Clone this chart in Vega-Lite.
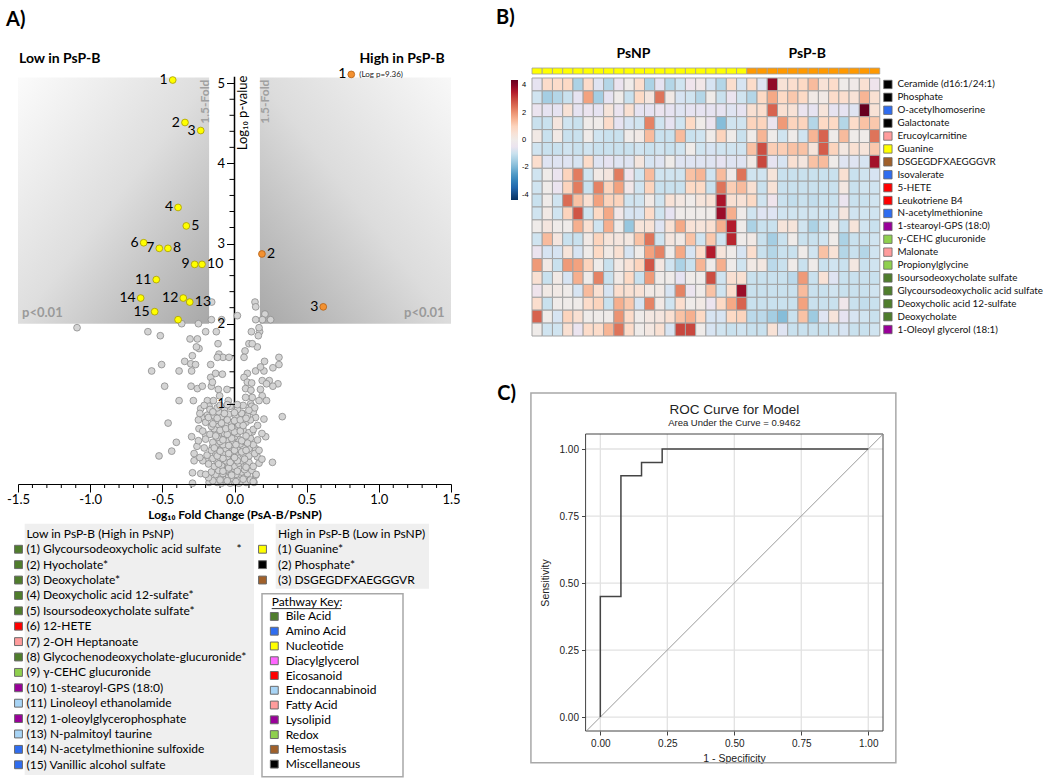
{
"$schema":"https://vega.github.io/schema/vega-lite/v6.json",
"background":"white",
"padding":{"left":6,"top":8,"right":0,"bottom":0},
"config":{"view":{"stroke":null},"font":"Lato","title":{"anchor":"start","color":"black"}},
"datasets":{
"volcano":[
{"x":-0.428,"y":5.04,"t":"low","n":1},{"x":-0.343,"y":4.51,"t":"low","n":2},{"x":-0.234,"y":4.41,"t":"low","n":3},{"x":-0.391,"y":3.45,"t":"low","n":4},{"x":-0.334,"y":3.22,"t":"low","n":5},{"x":-0.629,"y":3.01,"t":"low","n":6},{"x":-0.521,"y":2.94,"t":"low","n":7},{"x":-0.461,"y":2.94,"t":"low","n":8},{"x":-0.276,"y":2.74,"t":"low","n":9},{"x":-0.225,"y":2.74,"t":"low","n":10},{"x":-0.542,"y":2.55,"t":"low","n":11},{"x":-0.355,"y":2.32,"t":"low","n":12},{"x":-0.31,"y":2.27,"t":"low","n":13},{"x":-0.65,"y":2.32,"t":"low","n":14},{"x":-0.553,"y":2.15,"t":"low","n":15},{"x":-0.391,"y":2.05,"t":"low","n":null},
{"x":0.809,"y":5.11,"t":"high","n":1,"logp":9.36},{"x":0.19,"y":2.87,"t":"high","n":2},{"x":0.615,"y":2.21,"t":"high","n":3},
{"x":-0.158,"y":2.27,"t":"ns"},{"x":0.142,"y":2.27,"t":"ns"},{"x":0.147,"y":2.21,"t":"ns"},{"x":0.211,"y":2.12,"t":"ns"},{"x":0.193,"y":2.05,"t":"ns"},{"x":0.25,"y":2.05,"t":"ns"},{"x":0.147,"y":2.05,"t":"ns"},{"x":-0.16,"y":2.05,"t":"ns"},{"x":-0.089,"y":2.05,"t":"ns"},{"x":0.02,"y":2.1,"t":"ns"},{"x":-0.25,"y":2.0,"t":"ns"},{"x":-0.366,"y":2.0,"t":"ns"},{"x":-1.091,"y":1.95,"t":"ns"},{"x":-0.6,"y":1.9,"t":"ns"},{"x":-0.514,"y":1.85,"t":"ns"},{"x":-0.2,"y":1.9,"t":"ns"},{"x":-0.126,"y":1.9,"t":"ns"},{"x":0.117,"y":1.9,"t":"ns"},{"x":0.174,"y":1.9,"t":"ns"},{"x":0.165,"y":1.85,"t":"ns"},{"x":-0.308,"y":1.81,"t":"ns"},{"x":-0.257,"y":1.81,"t":"ns"},{"x":-0.114,"y":1.75,"t":"ns"},{"x":0.17,"y":1.95,"t":"ns"},{"x":0.073,"y":1.66,"t":"ns"},{"x":0.066,"y":1.58,"t":"ns"},{"x":0.158,"y":1.71,"t":"ns"},{"x":0.1,"y":1.75,"t":"ns"},{"x":0.123,"y":1.75,"t":"ns"},{"x":-0.108,"y":1.62,"t":"ns"},{"x":-0.08,"y":1.58,"t":"ns"},{"x":-0.038,"y":1.58,"t":"ns"},{"x":-0.119,"y":1.58,"t":"ns"},{"x":-0.246,"y":1.69,"t":"ns"},{"x":-0.292,"y":1.6,"t":"ns"},{"x":-0.264,"y":1.71,"t":"ns"},{"x":-0.345,"y":1.53,"t":"ns"},{"x":-0.303,"y":1.5,"t":"ns"},{"x":-0.27,"y":1.49,"t":"ns"},{"x":-0.297,"y":1.41,"t":"ns"},{"x":-0.384,"y":1.41,"t":"ns"},{"x":-0.165,"y":1.49,"t":"ns"},{"x":-0.505,"y":1.49,"t":"ns"},{"x":-0.574,"y":1.41,"t":"ns"},{"x":-0.484,"y":1.22,"t":"ns"},{"x":-0.384,"y":1.04,"t":"ns"},{"x":-0.285,"y":1.04,"t":"ns"},{"x":-0.301,"y":1.22,"t":"ns"},{"x":-0.257,"y":1.19,"t":"ns"},{"x":-0.223,"y":1.22,"t":"ns"},{"x":-0.16,"y":1.22,"t":"ns"},{"x":-0.165,"y":1.33,"t":"ns"},{"x":-0.131,"y":1.38,"t":"ns"},{"x":-0.084,"y":1.37,"t":"ns"},{"x":-0.153,"y":1.27,"t":"ns"},{"x":-0.112,"y":1.18,"t":"ns"},{"x":-0.188,"y":1.04,"t":"ns"},{"x":-0.146,"y":1.04,"t":"ns"},{"x":-0.103,"y":1.1,"t":"ns"},{"x":-0.052,"y":1.18,"t":"ns"},{"x":-0.043,"y":1.04,"t":"ns"},{"x":0.089,"y":1.38,"t":"ns"},{"x":0.146,"y":1.41,"t":"ns"},{"x":0.204,"y":1.41,"t":"ns"},{"x":0.266,"y":1.45,"t":"ns"},{"x":0.308,"y":1.58,"t":"ns"},{"x":0.308,"y":1.49,"t":"ns"},{"x":0.208,"y":1.53,"t":"ns"},{"x":0.18,"y":1.46,"t":"ns"},{"x":0.066,"y":1.33,"t":"ns"},{"x":0.089,"y":1.27,"t":"ns"},{"x":0.119,"y":1.26,"t":"ns"},{"x":0.192,"y":1.29,"t":"ns"},{"x":0.241,"y":1.29,"t":"ns"},{"x":0.301,"y":1.25,"t":"ns"},{"x":0.222,"y":1.25,"t":"ns"},{"x":0.266,"y":1.22,"t":"ns"},{"x":0.077,"y":1.19,"t":"ns"},{"x":0.114,"y":1.17,"t":"ns"},{"x":0.18,"y":1.18,"t":"ns"},{"x":0.123,"y":1.08,"t":"ns"},{"x":0.077,"y":1.08,"t":"ns"},{"x":0.192,"y":1.1,"t":"ns"},{"x":0.17,"y":1.04,"t":"ns"},{"x":0.222,"y":1.04,"t":"ns"},{"x":0.112,"y":1.0,"t":"ns"},{"x":0.331,"y":0.84,"t":"ns"},{"x":0.204,"y":0.81,"t":"ns"},{"x":0.119,"y":0.97,"t":"ns"},{"x":0.054,"y":0.88,"t":"ns"},{"x":0.146,"y":0.83,"t":"ns"},{"x":0.089,"y":0.81,"t":"ns"},{"x":-0.46,"y":0.76,"t":"ns"},{"x":-0.234,"y":0.94,"t":"ns"},{"x":-0.176,"y":0.97,"t":"ns"},{"x":-0.223,"y":0.83,"t":"ns"},{"x":-0.25,"y":0.8,"t":"ns"},{"x":-0.188,"y":0.86,"t":"ns"},{"x":-0.297,"y":0.59,"t":"ns"},{"x":-0.246,"y":0.69,"t":"ns"},{"x":-0.2,"y":0.61,"t":"ns"},{"x":-0.153,"y":0.71,"t":"ns"},{"x":-0.403,"y":0.52,"t":"ns"},{"x":-0.435,"y":0.41,"t":"ns"},{"x":-0.523,"y":0.35,"t":"ns"},{"x":-0.28,"y":0.38,"t":"ns"},{"x":-0.28,"y":0.29,"t":"ns"},{"x":-0.291,"y":0.14,"t":"ns"},{"x":-0.234,"y":0.13,"t":"ns"},{"x":-0.176,"y":0.02,"t":"ns"},{"x":-0.291,"y":0.01,"t":"ns"},{"x":-0.2,"y":0.3,"t":"ns"},{"x":-0.153,"y":0.46,"t":"ns"},{"x":0.216,"y":0.59,"t":"ns"},{"x":0.263,"y":0.27,"t":"ns"},{"x":0.146,"y":0.44,"t":"ns"},{"x":0.158,"y":0.34,"t":"ns"},{"x":0.123,"y":0.65,"t":"ns"},{"x":0.135,"y":0.02,"t":"ns"},{"x":0.146,"y":0.11,"t":"ns"},
{"x":-0.12,"y":0.02,"t":"ns"},{"x":-0.09,"y":0.01,"t":"ns"},{"x":-0.06,"y":0.03,"t":"ns"},{"x":-0.03,"y":0.01,"t":"ns"},{"x":0.0,"y":0.02,"t":"ns"},{"x":0.03,"y":0.01,"t":"ns"},{"x":0.05,"y":0.03,"t":"ns"},{"x":0.08,"y":0.02,"t":"ns"},{"x":-0.15,"y":0.04,"t":"ns"},{"x":0.11,"y":0.05,"t":"ns"},{"x":-0.07,"y":0.06,"t":"ns"},{"x":-0.01,"y":0.07,"t":"ns"},{"x":0.04,"y":0.08,"t":"ns"},{"x":-0.1,"y":0.09,"t":"ns"},{"x":0.07,"y":0.1,"t":"ns"},{"x":-0.04,"y":0.1,"t":"ns"},{"x":0.02,"y":0.05,"t":"ns"},{"x":-0.18,"y":0.08,"t":"ns"},{"x":0.13,"y":0.03,"t":"ns"},
{"x":-0.13,"y":0.12,"t":"ns"},{"x":-0.08,"y":0.13,"t":"ns"},{"x":-0.03,"y":0.14,"t":"ns"},{"x":0.01,"y":0.12,"t":"ns"},{"x":0.05,"y":0.15,"t":"ns"},{"x":0.09,"y":0.13,"t":"ns"},{"x":-0.11,"y":0.17,"t":"ns"},{"x":-0.05,"y":0.18,"t":"ns"},{"x":0.0,"y":0.19,"t":"ns"},{"x":0.04,"y":0.2,"t":"ns"},{"x":-0.16,"y":0.15,"t":"ns"},{"x":0.12,"y":0.17,"t":"ns"},{"x":-0.02,"y":0.11,"t":"ns"},{"x":0.07,"y":0.18,"t":"ns"},{"x":-0.2,"y":0.12,"t":"ns"},{"x":0.15,"y":0.12,"t":"ns"},
{"x":-0.14,"y":0.22,"t":"ns"},{"x":-0.09,"y":0.23,"t":"ns"},{"x":-0.04,"y":0.24,"t":"ns"},{"x":0.0,"y":0.22,"t":"ns"},{"x":0.03,"y":0.26,"t":"ns"},{"x":0.07,"y":0.23,"t":"ns"},{"x":0.1,"y":0.27,"t":"ns"},{"x":-0.12,"y":0.28,"t":"ns"},{"x":-0.06,"y":0.29,"t":"ns"},{"x":-0.01,"y":0.3,"t":"ns"},{"x":0.05,"y":0.29,"t":"ns"},{"x":-0.18,"y":0.25,"t":"ns"},{"x":0.13,"y":0.22,"t":"ns"},{"x":-0.22,"y":0.29,"t":"ns"},{"x":0.17,"y":0.26,"t":"ns"},
{"x":-0.15,"y":0.32,"t":"ns"},{"x":-0.1,"y":0.33,"t":"ns"},{"x":-0.05,"y":0.34,"t":"ns"},{"x":-0.01,"y":0.36,"t":"ns"},{"x":0.03,"y":0.33,"t":"ns"},{"x":0.06,"y":0.37,"t":"ns"},{"x":0.1,"y":0.35,"t":"ns"},{"x":-0.13,"y":0.38,"t":"ns"},{"x":-0.08,"y":0.39,"t":"ns"},{"x":0.02,"y":0.4,"t":"ns"},{"x":0.14,"y":0.38,"t":"ns"},{"x":-0.19,"y":0.36,"t":"ns"},{"x":-0.24,"y":0.33,"t":"ns"},{"x":0.19,"y":0.31,"t":"ns"},
{"x":-0.16,"y":0.42,"t":"ns"},{"x":-0.11,"y":0.43,"t":"ns"},{"x":-0.06,"y":0.44,"t":"ns"},{"x":-0.02,"y":0.46,"t":"ns"},{"x":0.02,"y":0.43,"t":"ns"},{"x":0.06,"y":0.47,"t":"ns"},{"x":0.1,"y":0.44,"t":"ns"},{"x":-0.13,"y":0.48,"t":"ns"},{"x":-0.08,"y":0.49,"t":"ns"},{"x":0.04,"y":0.5,"t":"ns"},{"x":0.13,"y":0.49,"t":"ns"},{"x":-0.21,"y":0.45,"t":"ns"},{"x":0.17,"y":0.42,"t":"ns"},{"x":-0.26,"y":0.47,"t":"ns"},
{"x":-0.15,"y":0.52,"t":"ns"},{"x":-0.1,"y":0.53,"t":"ns"},{"x":-0.05,"y":0.55,"t":"ns"},{"x":-0.01,"y":0.52,"t":"ns"},{"x":0.03,"y":0.56,"t":"ns"},{"x":0.07,"y":0.53,"t":"ns"},{"x":0.11,"y":0.57,"t":"ns"},{"x":-0.12,"y":0.58,"t":"ns"},{"x":-0.07,"y":0.6,"t":"ns"},{"x":0.0,"y":0.59,"t":"ns"},{"x":0.16,"y":0.55,"t":"ns"},{"x":-0.2,"y":0.56,"t":"ns"},{"x":-0.25,"y":0.54,"t":"ns"},
{"x":-0.17,"y":0.62,"t":"ns"},{"x":-0.12,"y":0.64,"t":"ns"},{"x":-0.07,"y":0.63,"t":"ns"},{"x":-0.03,"y":0.66,"t":"ns"},{"x":0.02,"y":0.63,"t":"ns"},{"x":0.06,"y":0.67,"t":"ns"},{"x":0.1,"y":0.64,"t":"ns"},{"x":-0.14,"y":0.69,"t":"ns"},{"x":-0.09,"y":0.7,"t":"ns"},{"x":0.04,"y":0.7,"t":"ns"},{"x":0.13,"y":0.68,"t":"ns"},{"x":-0.22,"y":0.66,"t":"ns"},{"x":0.19,"y":0.63,"t":"ns"},
{"x":-0.16,"y":0.72,"t":"ns"},{"x":-0.11,"y":0.74,"t":"ns"},{"x":-0.06,"y":0.73,"t":"ns"},{"x":-0.02,"y":0.76,"t":"ns"},{"x":0.03,"y":0.74,"t":"ns"},{"x":0.08,"y":0.77,"t":"ns"},{"x":-0.13,"y":0.79,"t":"ns"},{"x":-0.08,"y":0.8,"t":"ns"},{"x":0.11,"y":0.8,"t":"ns"},{"x":-0.2,"y":0.77,"t":"ns"},{"x":0.16,"y":0.73,"t":"ns"},
{"x":-0.18,"y":0.83,"t":"ns"},{"x":-0.14,"y":0.85,"t":"ns"},{"x":-0.09,"y":0.84,"t":"ns"},{"x":-0.04,"y":0.87,"t":"ns"},{"x":0.01,"y":0.84,"t":"ns"},{"x":0.05,"y":0.88,"t":"ns"},{"x":0.09,"y":0.85,"t":"ns"},{"x":-0.11,"y":0.9,"t":"ns"},{"x":0.13,"y":0.9,"t":"ns"},{"x":-0.24,"y":0.88,"t":"ns"},
{"x":-0.17,"y":0.93,"t":"ns"},{"x":-0.12,"y":0.95,"t":"ns"},{"x":-0.07,"y":0.94,"t":"ns"},{"x":-0.03,"y":0.97,"t":"ns"},{"x":0.02,"y":0.93,"t":"ns"},{"x":0.06,"y":0.98,"t":"ns"},{"x":-0.21,"y":0.98,"t":"ns"},{"x":0.14,"y":0.95,"t":"ns"},
{"x":-0.1,"y":0.05,"t":"ns"},{"x":-0.05,"y":0.04,"t":"ns"},{"x":0.01,"y":0.03,"t":"ns"},{"x":0.06,"y":0.06,"t":"ns"},{"x":-0.08,"y":0.16,"t":"ns"},{"x":0.02,"y":0.16,"t":"ns"},{"x":-0.04,"y":0.2,"t":"ns"},{"x":0.08,"y":0.21,"t":"ns"},{"x":-0.11,"y":0.25,"t":"ns"},{"x":-0.03,"y":0.27,"t":"ns"},{"x":0.02,"y":0.29,"t":"ns"},{"x":-0.08,"y":0.32,"t":"ns"},{"x":0.0,"y":0.33,"t":"ns"},{"x":0.07,"y":0.31,"t":"ns"},{"x":-0.12,"y":0.35,"t":"ns"},{"x":-0.04,"y":0.38,"t":"ns"},{"x":0.05,"y":0.4,"t":"ns"},{"x":-0.1,"y":0.41,"t":"ns"},{"x":0.0,"y":0.42,"t":"ns"},{"x":0.08,"y":0.42,"t":"ns"},{"x":-0.14,"y":0.45,"t":"ns"},{"x":-0.04,"y":0.48,"t":"ns"},{"x":0.01,"y":0.49,"t":"ns"},{"x":0.09,"y":0.51,"t":"ns"},{"x":-0.08,"y":0.55,"t":"ns"},{"x":0.05,"y":0.54,"t":"ns"},{"x":-0.02,"y":0.57,"t":"ns"},{"x":-0.13,"y":0.6,"t":"ns"},{"x":0.08,"y":0.6,"t":"ns"},{"x":-0.05,"y":0.62,"t":"ns"},{"x":0.0,"y":0.65,"t":"ns"},{"x":-0.1,"y":0.67,"t":"ns"},{"x":0.04,"y":0.66,"t":"ns"},{"x":-0.06,"y":0.69,"t":"ns"},{"x":-0.15,"y":0.75,"t":"ns"},{"x":-0.02,"y":0.71,"t":"ns"},{"x":0.06,"y":0.73,"t":"ns"},{"x":-0.09,"y":0.76,"t":"ns"},{"x":0.0,"y":0.79,"t":"ns"},{"x":-0.05,"y":0.8,"t":"ns"},{"x":0.04,"y":0.8,"t":"ns"},{"x":-0.12,"y":0.82,"t":"ns"},{"x":0.08,"y":0.82,"t":"ns"},{"x":-0.07,"y":0.88,"t":"ns"},{"x":0.0,"y":0.89,"t":"ns"},{"x":-0.15,"y":0.9,"t":"ns"},{"x":0.1,"y":0.92,"t":"ns"},{"x":-0.1,"y":0.98,"t":"ns"},{"x":0.02,"y":0.99,"t":"ns"},{"x":-0.05,"y":0.99,"t":"ns"}
],
"xminor":[{"v":-1.4},{"v":-1.3},{"v":-1.2},{"v":-1.1},{"v":-0.9},{"v":-0.8},{"v":-0.7},{"v":-0.6},{"v":-0.4},{"v":-0.3},{"v":-0.2},{"v":-0.1},{"v":0.1},{"v":0.2},{"v":0.3},{"v":0.4},{"v":0.6},{"v":0.7},{"v":0.8},{"v":0.9},{"v":1.1},{"v":1.2},{"v":1.3},{"v":1.4}],
"yminor":[{"v":0.2},{"v":0.4},{"v":0.6},{"v":0.8},{"v":1.2},{"v":1.4},{"v":1.6},{"v":1.8},{"v":2.2},{"v":2.4},{"v":2.6},{"v":2.8},{"v":3.2},{"v":3.4},{"v":3.6},{"v":3.8},{"v":4.2},{"v":4.4},{"v":4.6},{"v":4.8}],
"rocgrid":[{"g":0},{"g":0.25},{"g":0.5},{"g":0.75},{"g":1}],
"legendList":[
{"list":"low","row":0,"label":"Low in PsP-B (High in PsNP)","pathway":null},
{"list":"low","row":1,"label":"(1) Glycoursodeoxycholic acid sulfate\u00a0\u00a0\u00a0\u00a0\u00a0*","pathway":"Bile Acid"},
{"list":"low","row":2,"label":"(2) Hyocholate*","pathway":"Bile Acid"},
{"list":"low","row":3,"label":"(3) Deoxycholate*","pathway":"Bile Acid"},
{"list":"low","row":4,"label":"(4) Deoxycholic acid 12-sulfate*","pathway":"Bile Acid"},
{"list":"low","row":5,"label":"(5) Isoursodeoxycholate sulfate*","pathway":"Bile Acid"},
{"list":"low","row":6,"label":"(6) 12-HETE","pathway":"Eicosanoid"},
{"list":"low","row":7,"label":"(7) 2-OH Heptanoate","pathway":"Fatty Acid"},
{"list":"low","row":8,"label":"(8) Glycochenodeoxycholate-glucuronide*","pathway":"Bile Acid"},
{"list":"low","row":9,"label":"(9) γ-CEHC glucuronide","pathway":"Redox"},
{"list":"low","row":10,"label":"(10) 1-stearoyl-GPS (18:0)","pathway":"Lysolipid"},
{"list":"low","row":11,"label":"(11) Linoleoyl ethanolamide","pathway":"Endocannabinoid"},
{"list":"low","row":12,"label":"(12) 1-oleoylglycerophosphate","pathway":"Lysolipid"},
{"list":"low","row":13,"label":"(13) N-palmitoyl taurine","pathway":"Endocannabinoid"},
{"list":"low","row":14,"label":"(14) N-acetylmethionine sulfoxide","pathway":"Amino Acid"},
{"list":"low","row":15,"label":"(15) Vanillic alcohol sulfate","pathway":"Amino Acid"},
{"list":"high","row":0,"label":"High in PsP-B (Low in PsNP)","pathway":null},
{"list":"high","row":1,"label":"(1) Guanine*","pathway":"Nucleotide"},
{"list":"high","row":2,"label":"(2) Phosphate*","pathway":"Miscellaneous"},
{"list":"high","row":3,"label":"(3) DSGEGDFXAEGGGVR","pathway":"Hemostasis"}
],
"pathKey":[
{"row":1,"pathway":"Bile Acid"},{"row":2,"pathway":"Amino Acid"},{"row":3,"pathway":"Nucleotide"},{"row":4,"pathway":"Diacylglycerol"},{"row":5,"pathway":"Eicosanoid"},{"row":6,"pathway":"Endocannabinoid"},{"row":7,"pathway":"Fatty Acid"},{"row":8,"pathway":"Lysolipid"},{"row":9,"pathway":"Redox"},{"row":10,"pathway":"Hemostasis"},{"row":11,"pathway":"Miscellaneous"}
],
"metab":[
{"r":0,"name":"Ceramide (d16:1/24:1)","pathway":"Miscellaneous"},
{"r":1,"name":"Phosphate","pathway":"Miscellaneous"},
{"r":2,"name":"O-acetylhomoserine","pathway":"Amino Acid"},
{"r":3,"name":"Galactonate","pathway":"Miscellaneous"},
{"r":4,"name":"Erucoylcarnitine","pathway":"Fatty Acid"},
{"r":5,"name":"Guanine","pathway":"Nucleotide"},
{"r":6,"name":"DSGEGDFXAEGGGVR","pathway":"Hemostasis"},
{"r":7,"name":"Isovalerate","pathway":"Amino Acid"},
{"r":8,"name":"5-HETE","pathway":"Eicosanoid"},
{"r":9,"name":"Leukotriene B4","pathway":"Eicosanoid"},
{"r":10,"name":"N-acetylmethionine","pathway":"Amino Acid"},
{"r":11,"name":"1-stearoyl-GPS (18:0)","pathway":"Lysolipid"},
{"r":12,"name":"γ-CEHC glucuronide","pathway":"Redox"},
{"r":13,"name":"Malonate","pathway":"Fatty Acid"},
{"r":14,"name":"Propionylglycine","pathway":"Redox"},
{"r":15,"name":"Isoursodeoxycholate sulfate","pathway":"Bile Acid"},
{"r":16,"name":"Glycoursodeoxycholic acid sulfate","pathway":"Bile Acid"},
{"r":17,"name":"Deoxycholic acid 12-sulfate","pathway":"Bile Acid"},
{"r":18,"name":"Deoxycholate","pathway":"Bile Acid"},
{"r":19,"name":"1-Oleoyl glycerol (18:1)","pathway":"Lysolipid"}
],
"samples":[
{"c":0,"group":"PsNP"},{"c":1,"group":"PsNP"},{"c":2,"group":"PsNP"},{"c":3,"group":"PsNP"},{"c":4,"group":"PsNP"},{"c":5,"group":"PsNP"},{"c":6,"group":"PsNP"},{"c":7,"group":"PsNP"},{"c":8,"group":"PsNP"},{"c":9,"group":"PsNP"},{"c":10,"group":"PsNP"},{"c":11,"group":"PsNP"},{"c":12,"group":"PsNP"},{"c":13,"group":"PsNP"},{"c":14,"group":"PsNP"},{"c":15,"group":"PsNP"},{"c":16,"group":"PsNP"},{"c":17,"group":"PsNP"},{"c":18,"group":"PsNP"},{"c":19,"group":"PsNP"},{"c":20,"group":"PsNP"},
{"c":21,"group":"PsP-B"},{"c":22,"group":"PsP-B"},{"c":23,"group":"PsP-B"},{"c":24,"group":"PsP-B"},{"c":25,"group":"PsP-B"},{"c":26,"group":"PsP-B"},{"c":27,"group":"PsP-B"},{"c":28,"group":"PsP-B"},{"c":29,"group":"PsP-B"},{"c":30,"group":"PsP-B"},{"c":31,"group":"PsP-B"},{"c":32,"group":"PsP-B"},{"c":33,"group":"PsP-B"}
],
"heat":[
{"r":0,"c":0,"v":-0.6},{"r":0,"c":1,"v":0.8},{"r":0,"c":2,"v":0.8},{"r":0,"c":3,"v":0.9},{"r":0,"c":4,"v":-1.4},{"r":0,"c":5,"v":0.8},{"r":0,"c":6,"v":-0.7},{"r":0,"c":7,"v":-1.3},{"r":0,"c":8,"v":-0.5},{"r":0,"c":9,"v":0},{"r":0,"c":10,"v":0.7},{"r":0,"c":11,"v":-1.4},{"r":0,"c":12,"v":-0.6},{"r":0,"c":13,"v":-1.3},{"r":0,"c":14,"v":-0.9},{"r":0,"c":15,"v":-0.4},{"r":0,"c":16,"v":-0.2},{"r":0,"c":17,"v":-0.8},{"r":0,"c":18,"v":-1.3},{"r":0,"c":19,"v":0.7},{"r":0,"c":20,"v":-0.8},{"r":0,"c":21,"v":0.8},{"r":0,"c":22,"v":-0.7},{"r":0,"c":23,"v":3.9},{"r":0,"c":24,"v":0.5},{"r":0,"c":25,"v":0.7},{"r":0,"c":26,"v":0.9},{"r":0,"c":27,"v":1.4},{"r":0,"c":28,"v":0.5},{"r":0,"c":29,"v":0.8},{"r":0,"c":30,"v":0},{"r":0,"c":31,"v":-0.1},{"r":0,"c":32,"v":0.6},{"r":0,"c":33,"v":-0.4},
{"r":1,"c":0,"v":-0.9},{"r":1,"c":1,"v":-1.5},{"r":1,"c":2,"v":-1.3},{"r":1,"c":3,"v":-1.0},{"r":1,"c":4,"v":-0.6},{"r":1,"c":5,"v":1.8},{"r":1,"c":6,"v":-1.5},{"r":1,"c":7,"v":-0.6},{"r":1,"c":8,"v":0},{"r":1,"c":9,"v":-1.0},{"r":1,"c":10,"v":0.9},{"r":1,"c":11,"v":0.3},{"r":1,"c":12,"v":2.4},{"r":1,"c":13,"v":0.1},{"r":1,"c":14,"v":-0.8},{"r":1,"c":15,"v":-0.9},{"r":1,"c":16,"v":-1.3},{"r":1,"c":17,"v":0},{"r":1,"c":18,"v":-1.0},{"r":1,"c":19,"v":-0.5},{"r":1,"c":20,"v":-0.9},{"r":1,"c":21,"v":-1.3},{"r":1,"c":22,"v":0.9},{"r":1,"c":23,"v":1.7},{"r":1,"c":24,"v":0.9},{"r":1,"c":25,"v":1.2},{"r":1,"c":26,"v":0.9},{"r":1,"c":27,"v":0.1},{"r":1,"c":28,"v":0.1},{"r":1,"c":29,"v":0.8},{"r":1,"c":30,"v":0.7},{"r":1,"c":31,"v":0.5},{"r":1,"c":32,"v":1.5},{"r":1,"c":33,"v":0.6},
{"r":2,"c":0,"v":-0.5},{"r":2,"c":1,"v":-0.6},{"r":2,"c":2,"v":-0.6},{"r":2,"c":3,"v":0.5},{"r":2,"c":4,"v":-0.6},{"r":2,"c":5,"v":-0.5},{"r":2,"c":6,"v":-0.6},{"r":2,"c":7,"v":0.4},{"r":2,"c":8,"v":-0.5},{"r":2,"c":9,"v":0.6},{"r":2,"c":10,"v":-0.6},{"r":2,"c":11,"v":-0.6},{"r":2,"c":12,"v":-0.5},{"r":2,"c":13,"v":-0.6},{"r":2,"c":14,"v":-0.7},{"r":2,"c":15,"v":-0.6},{"r":2,"c":16,"v":-0.6},{"r":2,"c":17,"v":-0.6},{"r":2,"c":18,"v":-0.6},{"r":2,"c":19,"v":-0.7},{"r":2,"c":20,"v":-0.6},{"r":2,"c":21,"v":0.6},{"r":2,"c":22,"v":0.7},{"r":2,"c":23,"v":2.6},{"r":2,"c":24,"v":0.6},{"r":2,"c":25,"v":0.5},{"r":2,"c":26,"v":-0.5},{"r":2,"c":27,"v":-0.6},{"r":2,"c":28,"v":0.4},{"r":2,"c":29,"v":-0.6},{"r":2,"c":30,"v":-0.6},{"r":2,"c":31,"v":-0.7},{"r":2,"c":32,"v":4.4},{"r":2,"c":33,"v":0.5},
{"r":3,"c":0,"v":-1.0},{"r":3,"c":1,"v":-1.0},{"r":3,"c":2,"v":0.3},{"r":3,"c":3,"v":-0.9},{"r":3,"c":4,"v":-1.0},{"r":3,"c":5,"v":0},{"r":3,"c":6,"v":0},{"r":3,"c":7,"v":0.8},{"r":3,"c":8,"v":-0.6},{"r":3,"c":9,"v":-0.8},{"r":3,"c":10,"v":-0.9},{"r":3,"c":11,"v":2.2},{"r":3,"c":12,"v":-0.9},{"r":3,"c":13,"v":-0.6},{"r":3,"c":14,"v":-0.9},{"r":3,"c":15,"v":0.9},{"r":3,"c":16,"v":0},{"r":3,"c":17,"v":-0.5},{"r":3,"c":18,"v":-1.9},{"r":3,"c":19,"v":-0.9},{"r":3,"c":20,"v":-0.9},{"r":3,"c":21,"v":1.0},{"r":3,"c":22,"v":1.0},{"r":3,"c":23,"v":-0.5},{"r":3,"c":24,"v":1.9},{"r":3,"c":25,"v":1.0},{"r":3,"c":26,"v":1.0},{"r":3,"c":27,"v":-1.3},{"r":3,"c":28,"v":0.9},{"r":3,"c":29,"v":0.9},{"r":3,"c":30,"v":-1.3},{"r":3,"c":31,"v":0.8},{"r":3,"c":32,"v":1.3},{"r":3,"c":33,"v":1.2},
{"r":4,"c":0,"v":0.1},{"r":4,"c":1,"v":-1.0},{"r":4,"c":2,"v":0.1},{"r":4,"c":3,"v":-1.0},{"r":4,"c":4,"v":-1.0},{"r":4,"c":5,"v":0},{"r":4,"c":6,"v":-0.9},{"r":4,"c":7,"v":-1.0},{"r":4,"c":8,"v":-1.0},{"r":4,"c":9,"v":0},{"r":4,"c":10,"v":0.1},{"r":4,"c":11,"v":1.4},{"r":4,"c":12,"v":-1.0},{"r":4,"c":13,"v":-1.0},{"r":4,"c":14,"v":1.4},{"r":4,"c":15,"v":-1.0},{"r":4,"c":16,"v":-0.9},{"r":4,"c":17,"v":0},{"r":4,"c":18,"v":1.0},{"r":4,"c":19,"v":0},{"r":4,"c":20,"v":-1.0},{"r":4,"c":21,"v":0},{"r":4,"c":22,"v":1.5},{"r":4,"c":23,"v":0},{"r":4,"c":24,"v":-0.9},{"r":4,"c":25,"v":0},{"r":4,"c":26,"v":-0.9},{"r":4,"c":27,"v":1.5},{"r":4,"c":28,"v":2.6},{"r":4,"c":29,"v":0},{"r":4,"c":30,"v":1.4},{"r":4,"c":31,"v":0},{"r":4,"c":32,"v":0},{"r":4,"c":33,"v":2.4},
{"r":5,"c":0,"v":-0.9},{"r":5,"c":1,"v":-1.0},{"r":5,"c":2,"v":-1.0},{"r":5,"c":3,"v":-0.9},{"r":5,"c":4,"v":-1.0},{"r":5,"c":5,"v":-0.9},{"r":5,"c":6,"v":-1.0},{"r":5,"c":7,"v":-1.0},{"r":5,"c":8,"v":-1.0},{"r":5,"c":9,"v":-1.0},{"r":5,"c":10,"v":-0.9},{"r":5,"c":11,"v":-1.0},{"r":5,"c":12,"v":-0.9},{"r":5,"c":13,"v":-1.0},{"r":5,"c":14,"v":-0.9},{"r":5,"c":15,"v":0},{"r":5,"c":16,"v":-0.9},{"r":5,"c":17,"v":-0.8},{"r":5,"c":18,"v":-0.9},{"r":5,"c":19,"v":-0.9},{"r":5,"c":20,"v":-0.9},{"r":5,"c":21,"v":1.3},{"r":5,"c":22,"v":2.9},{"r":5,"c":23,"v":1.1},{"r":5,"c":24,"v":1.1},{"r":5,"c":25,"v":1.3},{"r":5,"c":26,"v":1.3},{"r":5,"c":27,"v":0.4},{"r":5,"c":28,"v":2.7},{"r":5,"c":29,"v":1.0},{"r":5,"c":30,"v":0.2},{"r":5,"c":31,"v":0.6},{"r":5,"c":32,"v":0.4},{"r":5,"c":33,"v":1.2},
{"r":6,"c":0,"v":0.7},{"r":6,"c":1,"v":-0.7},{"r":6,"c":2,"v":-0.7},{"r":6,"c":3,"v":-0.7},{"r":6,"c":4,"v":-0.8},{"r":6,"c":5,"v":0.8},{"r":6,"c":6,"v":-0.7},{"r":6,"c":7,"v":-0.6},{"r":6,"c":8,"v":-0.7},{"r":6,"c":9,"v":-0.7},{"r":6,"c":10,"v":0.3},{"r":6,"c":11,"v":-0.8},{"r":6,"c":12,"v":-0.7},{"r":6,"c":13,"v":0},{"r":6,"c":14,"v":-0.7},{"r":6,"c":15,"v":-0.7},{"r":6,"c":16,"v":-0.7},{"r":6,"c":17,"v":-0.7},{"r":6,"c":18,"v":-0.6},{"r":6,"c":19,"v":-0.7},{"r":6,"c":20,"v":-0.7},{"r":6,"c":21,"v":0.1},{"r":6,"c":22,"v":3.0},{"r":6,"c":23,"v":-0.6},{"r":6,"c":24,"v":-0.8},{"r":6,"c":25,"v":0.6},{"r":6,"c":26,"v":0.3},{"r":6,"c":27,"v":1.3},{"r":6,"c":28,"v":1.4},{"r":6,"c":29,"v":0},{"r":6,"c":30,"v":-0.7},{"r":6,"c":31,"v":-0.7},{"r":6,"c":32,"v":-0.8},{"r":6,"c":33,"v":3.7},
{"r":7,"c":0,"v":-0.9},{"r":7,"c":1,"v":0},{"r":7,"c":2,"v":-0.5},{"r":7,"c":3,"v":1.0},{"r":7,"c":4,"v":2.3},{"r":7,"c":5,"v":-0.9},{"r":7,"c":6,"v":0.1},{"r":7,"c":7,"v":0.3},{"r":7,"c":8,"v":2.3},{"r":7,"c":9,"v":-0.4},{"r":7,"c":10,"v":-0.9},{"r":7,"c":11,"v":1.4},{"r":7,"c":12,"v":-0.9},{"r":7,"c":13,"v":-0.9},{"r":7,"c":14,"v":-0.9},{"r":7,"c":15,"v":1.3},{"r":7,"c":16,"v":1.5},{"r":7,"c":17,"v":-0.9},{"r":7,"c":18,"v":1.4},{"r":7,"c":19,"v":-0.1},{"r":7,"c":20,"v":2.4},{"r":7,"c":21,"v":-0.9},{"r":7,"c":22,"v":-0.9},{"r":7,"c":23,"v":0.4},{"r":7,"c":24,"v":-1.0},{"r":7,"c":25,"v":-1.0},{"r":7,"c":26,"v":-1.0},{"r":7,"c":27,"v":-1.0},{"r":7,"c":28,"v":-1.0},{"r":7,"c":29,"v":-1.0},{"r":7,"c":30,"v":0.6},{"r":7,"c":31,"v":-1.0},{"r":7,"c":32,"v":-0.9},{"r":7,"c":33,"v":-0.8},
{"r":8,"c":0,"v":-0.9},{"r":8,"c":1,"v":0},{"r":8,"c":2,"v":-0.5},{"r":8,"c":3,"v":1.0},{"r":8,"c":4,"v":2.3},{"r":8,"c":5,"v":-1.0},{"r":8,"c":6,"v":2.2},{"r":8,"c":7,"v":1.0},{"r":8,"c":8,"v":1.8},{"r":8,"c":9,"v":-0.2},{"r":8,"c":10,"v":-0.9},{"r":8,"c":11,"v":1.0},{"r":8,"c":12,"v":-1.0},{"r":8,"c":13,"v":-1.0},{"r":8,"c":14,"v":-1.0},{"r":8,"c":15,"v":0.9},{"r":8,"c":16,"v":0.9},{"r":8,"c":17,"v":-1.0},{"r":8,"c":18,"v":2.4},{"r":8,"c":19,"v":1.1},{"r":8,"c":20,"v":1.4},{"r":8,"c":21,"v":0.6},{"r":8,"c":22,"v":-1.0},{"r":8,"c":23,"v":0.5},{"r":8,"c":24,"v":-1.0},{"r":8,"c":25,"v":-1.0},{"r":8,"c":26,"v":-1.0},{"r":8,"c":27,"v":-1.0},{"r":8,"c":28,"v":-1.0},{"r":8,"c":29,"v":-1.0},{"r":8,"c":30,"v":0.2},{"r":8,"c":31,"v":-1.0},{"r":8,"c":32,"v":-0.9},{"r":8,"c":33,"v":-0.9},
{"r":9,"c":0,"v":-1.0},{"r":9,"c":1,"v":0},{"r":9,"c":2,"v":-0.9},{"r":9,"c":3,"v":2.5},{"r":9,"c":4,"v":1.3},{"r":9,"c":5,"v":0.6},{"r":9,"c":6,"v":1.8},{"r":9,"c":7,"v":1.0},{"r":9,"c":8,"v":1.0},{"r":9,"c":9,"v":-0.9},{"r":9,"c":10,"v":-0.9},{"r":9,"c":11,"v":0.1},{"r":9,"c":12,"v":-0.9},{"r":9,"c":13,"v":0.5},{"r":9,"c":14,"v":0.2},{"r":9,"c":15,"v":0},{"r":9,"c":16,"v":0.4},{"r":9,"c":17,"v":0.5},{"r":9,"c":18,"v":3.6},{"r":9,"c":19,"v":0.6},{"r":9,"c":20,"v":0.5},{"r":9,"c":21,"v":0.9},{"r":9,"c":22,"v":-0.9},{"r":9,"c":23,"v":-0.4},{"r":9,"c":24,"v":-1.0},{"r":9,"c":25,"v":-1.1},{"r":9,"c":26,"v":-1.0},{"r":9,"c":27,"v":-1.1},{"r":9,"c":28,"v":-1.0},{"r":9,"c":29,"v":-1.0},{"r":9,"c":30,"v":-0.5},{"r":9,"c":31,"v":-1.0},{"r":9,"c":32,"v":-1.0},{"r":9,"c":33,"v":-0.9},
{"r":10,"c":0,"v":-0.9},{"r":10,"c":1,"v":0.1},{"r":10,"c":2,"v":-0.9},{"r":10,"c":3,"v":1.0},{"r":10,"c":4,"v":2.8},{"r":10,"c":5,"v":-0.9},{"r":10,"c":6,"v":0.9},{"r":10,"c":7,"v":1.7},{"r":10,"c":8,"v":-0.2},{"r":10,"c":9,"v":-0.8},{"r":10,"c":10,"v":-0.8},{"r":10,"c":11,"v":0.8},{"r":10,"c":12,"v":-0.9},{"r":10,"c":13,"v":-0.6},{"r":10,"c":14,"v":0},{"r":10,"c":15,"v":0},{"r":10,"c":16,"v":0},{"r":10,"c":17,"v":0},{"r":10,"c":18,"v":3.8},{"r":10,"c":19,"v":1.6},{"r":10,"c":20,"v":0},{"r":10,"c":21,"v":-0.9},{"r":10,"c":22,"v":-0.7},{"r":10,"c":23,"v":-0.7},{"r":10,"c":24,"v":-0.9},{"r":10,"c":25,"v":-0.9},{"r":10,"c":26,"v":-0.9},{"r":10,"c":27,"v":-0.9},{"r":10,"c":28,"v":-0.9},{"r":10,"c":29,"v":-0.9},{"r":10,"c":30,"v":0.3},{"r":10,"c":31,"v":-0.9},{"r":10,"c":32,"v":-0.9},{"r":10,"c":33,"v":-0.9},
{"r":11,"c":0,"v":0},{"r":11,"c":1,"v":0.3},{"r":11,"c":2,"v":0},{"r":11,"c":3,"v":0},{"r":11,"c":4,"v":1.6},{"r":11,"c":5,"v":0.6},{"r":11,"c":6,"v":-0.9},{"r":11,"c":7,"v":1.6},{"r":11,"c":8,"v":0},{"r":11,"c":9,"v":-1.7},{"r":11,"c":10,"v":0.4},{"r":11,"c":11,"v":0.5},{"r":11,"c":12,"v":-0.7},{"r":11,"c":13,"v":0.5},{"r":11,"c":14,"v":1.7},{"r":11,"c":15,"v":0.5},{"r":11,"c":16,"v":0.4},{"r":11,"c":17,"v":0.6},{"r":11,"c":18,"v":1.6},{"r":11,"c":19,"v":3.5},{"r":11,"c":20,"v":0},{"r":11,"c":21,"v":-1.4},{"r":11,"c":22,"v":-1.0},{"r":11,"c":23,"v":-1.0},{"r":11,"c":24,"v":0.4},{"r":11,"c":25,"v":0.4},{"r":11,"c":26,"v":-0.9},{"r":11,"c":27,"v":-1.4},{"r":11,"c":28,"v":-1.0},{"r":11,"c":29,"v":0},{"r":11,"c":30,"v":-1.0},{"r":11,"c":31,"v":0.4},{"r":11,"c":32,"v":-0.9},{"r":11,"c":33,"v":-1.0},
{"r":12,"c":0,"v":-0.9},{"r":12,"c":1,"v":1.4},{"r":12,"c":2,"v":0.3},{"r":12,"c":3,"v":-1.0},{"r":12,"c":4,"v":-1.0},{"r":12,"c":5,"v":0.1},{"r":12,"c":6,"v":1.0},{"r":12,"c":7,"v":0.4},{"r":12,"c":8,"v":0.3},{"r":12,"c":9,"v":0.2},{"r":12,"c":10,"v":1.3},{"r":12,"c":11,"v":2.4},{"r":12,"c":12,"v":-0.9},{"r":12,"c":13,"v":0.3},{"r":12,"c":14,"v":0.1},{"r":12,"c":15,"v":1.3},{"r":12,"c":16,"v":-0.9},{"r":12,"c":17,"v":1.2},{"r":12,"c":18,"v":-0.9},{"r":12,"c":19,"v":3.4},{"r":12,"c":20,"v":0},{"r":12,"c":21,"v":0.1},{"r":12,"c":22,"v":-1.0},{"r":12,"c":23,"v":-1.5},{"r":12,"c":24,"v":-1.0},{"r":12,"c":25,"v":0},{"r":12,"c":26,"v":-1.0},{"r":12,"c":27,"v":-1.0},{"r":12,"c":28,"v":-0.9},{"r":12,"c":29,"v":0},{"r":12,"c":30,"v":-1.4},{"r":12,"c":31,"v":-1.0},{"r":12,"c":32,"v":-1.0},{"r":12,"c":33,"v":-0.9},
{"r":13,"c":0,"v":-0.5},{"r":13,"c":1,"v":-0.8},{"r":13,"c":2,"v":-0.8},{"r":13,"c":3,"v":0.4},{"r":13,"c":4,"v":-0.8},{"r":13,"c":5,"v":0},{"r":13,"c":6,"v":0.9},{"r":13,"c":7,"v":0.1},{"r":13,"c":8,"v":0.6},{"r":13,"c":9,"v":-0.8},{"r":13,"c":10,"v":0},{"r":13,"c":11,"v":1.8},{"r":13,"c":12,"v":2.2},{"r":13,"c":13,"v":0},{"r":13,"c":14,"v":1.7},{"r":13,"c":15,"v":-0.8},{"r":13,"c":16,"v":0.8},{"r":13,"c":17,"v":3.5},{"r":13,"c":18,"v":0.4},{"r":13,"c":19,"v":0},{"r":13,"c":20,"v":-0.8},{"r":13,"c":21,"v":0.7},{"r":13,"c":22,"v":-1.0},{"r":13,"c":23,"v":-1.3},{"r":13,"c":24,"v":-1.0},{"r":13,"c":25,"v":-1.0},{"r":13,"c":26,"v":0},{"r":13,"c":27,"v":-0.9},{"r":13,"c":28,"v":1.3},{"r":13,"c":29,"v":0.5},{"r":13,"c":30,"v":-1.3},{"r":13,"c":31,"v":-1.0},{"r":13,"c":32,"v":-1.3},{"r":13,"c":33,"v":-0.9},
{"r":14,"c":0,"v":1.9},{"r":14,"c":1,"v":0.1},{"r":14,"c":2,"v":-1.0},{"r":14,"c":3,"v":1.9},{"r":14,"c":4,"v":1.8},{"r":14,"c":5,"v":1.0},{"r":14,"c":6,"v":0},{"r":14,"c":7,"v":-1.0},{"r":14,"c":8,"v":0.1},{"r":14,"c":9,"v":0.5},{"r":14,"c":10,"v":1.0},{"r":14,"c":11,"v":2.8},{"r":14,"c":12,"v":0.2},{"r":14,"c":13,"v":-0.9},{"r":14,"c":14,"v":-1.4},{"r":14,"c":15,"v":-1.0},{"r":14,"c":16,"v":1.5},{"r":14,"c":17,"v":0},{"r":14,"c":18,"v":1.6},{"r":14,"c":19,"v":0},{"r":14,"c":20,"v":-0.9},{"r":14,"c":21,"v":0.1},{"r":14,"c":22,"v":0.2},{"r":14,"c":23,"v":-1.2},{"r":14,"c":24,"v":-1.0},{"r":14,"c":25,"v":0},{"r":14,"c":26,"v":-1.0},{"r":14,"c":27,"v":0},{"r":14,"c":28,"v":-1.0},{"r":14,"c":29,"v":-0.9},{"r":14,"c":30,"v":-1.0},{"r":14,"c":31,"v":0.2},{"r":14,"c":32,"v":-1.0},{"r":14,"c":33,"v":-0.9},
{"r":15,"c":0,"v":0.6},{"r":15,"c":1,"v":-1.0},{"r":15,"c":2,"v":0.1},{"r":15,"c":3,"v":-0.8},{"r":15,"c":4,"v":1.6},{"r":15,"c":5,"v":0},{"r":15,"c":6,"v":2.2},{"r":15,"c":7,"v":-1.0},{"r":15,"c":8,"v":0.1},{"r":15,"c":9,"v":0.9},{"r":15,"c":10,"v":-1.0},{"r":15,"c":11,"v":1.9},{"r":15,"c":12,"v":0},{"r":15,"c":13,"v":0},{"r":15,"c":14,"v":-0.6},{"r":15,"c":15,"v":0},{"r":15,"c":16,"v":0},{"r":15,"c":17,"v":2.9},{"r":15,"c":18,"v":-0.9},{"r":15,"c":19,"v":0.6},{"r":15,"c":20,"v":0.6},{"r":15,"c":21,"v":-1.0},{"r":15,"c":22,"v":-1.0},{"r":15,"c":23,"v":-1.0},{"r":15,"c":24,"v":-1.0},{"r":15,"c":25,"v":-1.2},{"r":15,"c":26,"v":1.9},{"r":15,"c":27,"v":-1.0},{"r":15,"c":28,"v":0.5},{"r":15,"c":29,"v":-0.7},{"r":15,"c":30,"v":-1.0},{"r":15,"c":31,"v":-1.0},{"r":15,"c":32,"v":-1.0},{"r":15,"c":33,"v":-1.0},
{"r":16,"c":0,"v":-0.4},{"r":16,"c":1,"v":0.1},{"r":16,"c":2,"v":0.1},{"r":16,"c":3,"v":0},{"r":16,"c":4,"v":-0.8},{"r":16,"c":5,"v":1.4},{"r":16,"c":6,"v":0.6},{"r":16,"c":7,"v":-0.8},{"r":16,"c":8,"v":0.7},{"r":16,"c":9,"v":0.6},{"r":16,"c":10,"v":0.5},{"r":16,"c":11,"v":0.1},{"r":16,"c":12,"v":0.1},{"r":16,"c":13,"v":-0.8},{"r":16,"c":14,"v":2.2},{"r":16,"c":15,"v":-0.5},{"r":16,"c":16,"v":0},{"r":16,"c":17,"v":1.3},{"r":16,"c":18,"v":-0.9},{"r":16,"c":19,"v":0.7},{"r":16,"c":20,"v":3.8},{"r":16,"c":21,"v":-1.0},{"r":16,"c":22,"v":-1.0},{"r":16,"c":23,"v":-1.0},{"r":16,"c":24,"v":-1.0},{"r":16,"c":25,"v":-1.0},{"r":16,"c":26,"v":1.4},{"r":16,"c":27,"v":-1.0},{"r":16,"c":28,"v":-1.0},{"r":16,"c":29,"v":-0.9},{"r":16,"c":30,"v":-1.0},{"r":16,"c":31,"v":-1.0},{"r":16,"c":32,"v":-1.0},{"r":16,"c":33,"v":-0.9},
{"r":17,"c":0,"v":0.7},{"r":17,"c":1,"v":-1.0},{"r":17,"c":2,"v":0},{"r":17,"c":3,"v":0},{"r":17,"c":4,"v":0},{"r":17,"c":5,"v":0.8},{"r":17,"c":6,"v":1.0},{"r":17,"c":7,"v":-1.0},{"r":17,"c":8,"v":1.6},{"r":17,"c":9,"v":1.2},{"r":17,"c":10,"v":-0.8},{"r":17,"c":11,"v":2.2},{"r":17,"c":12,"v":0.1},{"r":17,"c":13,"v":-0.9},{"r":17,"c":14,"v":0.7},{"r":17,"c":15,"v":0},{"r":17,"c":16,"v":0.1},{"r":17,"c":17,"v":-0.5},{"r":17,"c":18,"v":0.9},{"r":17,"c":19,"v":1.7},{"r":17,"c":20,"v":2.6},{"r":17,"c":21,"v":-1.0},{"r":17,"c":22,"v":-1.0},{"r":17,"c":23,"v":-1.0},{"r":17,"c":24,"v":-1.0},{"r":17,"c":25,"v":-1.0},{"r":17,"c":26,"v":1.8},{"r":17,"c":27,"v":-1.0},{"r":17,"c":28,"v":-1.0},{"r":17,"c":29,"v":-1.0},{"r":17,"c":30,"v":-0.3},{"r":17,"c":31,"v":-1.0},{"r":17,"c":32,"v":-1.1},{"r":17,"c":33,"v":-1.0},
{"r":18,"c":0,"v":2.6},{"r":18,"c":1,"v":0},{"r":18,"c":2,"v":-0.8},{"r":18,"c":3,"v":1.0},{"r":18,"c":4,"v":0.6},{"r":18,"c":5,"v":0},{"r":18,"c":6,"v":0},{"r":18,"c":7,"v":0},{"r":18,"c":8,"v":2.0},{"r":18,"c":9,"v":0.8},{"r":18,"c":10,"v":0},{"r":18,"c":11,"v":0.2},{"r":18,"c":12,"v":0.3},{"r":18,"c":13,"v":0.6},{"r":18,"c":14,"v":1.3},{"r":18,"c":15,"v":1.6},{"r":18,"c":16,"v":0.9},{"r":18,"c":17,"v":-0.8},{"r":18,"c":18,"v":-0.8},{"r":18,"c":19,"v":0.9},{"r":18,"c":20,"v":1.0},{"r":18,"c":21,"v":-1.2},{"r":18,"c":22,"v":-1.2},{"r":18,"c":23,"v":-1.5},{"r":18,"c":24,"v":-1.9},{"r":18,"c":25,"v":-1.0},{"r":18,"c":26,"v":1.3},{"r":18,"c":27,"v":-1.6},{"r":18,"c":28,"v":-0.7},{"r":18,"c":29,"v":0.4},{"r":18,"c":30,"v":-0.6},{"r":18,"c":31,"v":-0.8},{"r":18,"c":32,"v":-0.9},{"r":18,"c":33,"v":-1.0},
{"r":19,"c":0,"v":0},{"r":19,"c":1,"v":-0.9},{"r":19,"c":2,"v":-0.9},{"r":19,"c":3,"v":0.6},{"r":19,"c":4,"v":-0.5},{"r":19,"c":5,"v":0.8},{"r":19,"c":6,"v":0.8},{"r":19,"c":7,"v":1.5},{"r":19,"c":8,"v":2.4},{"r":19,"c":9,"v":0.8},{"r":19,"c":10,"v":0},{"r":19,"c":11,"v":0.2},{"r":19,"c":12,"v":0.6},{"r":19,"c":13,"v":-0.8},{"r":19,"c":14,"v":3.0},{"r":19,"c":15,"v":3.0},{"r":19,"c":16,"v":0},{"r":19,"c":17,"v":-0.8},{"r":19,"c":18,"v":-0.9},{"r":19,"c":19,"v":-1.0},{"r":19,"c":20,"v":-0.9},{"r":19,"c":21,"v":-1.0},{"r":19,"c":22,"v":-1.0},{"r":19,"c":23,"v":0.5},{"r":19,"c":24,"v":-0.7},{"r":19,"c":25,"v":-1.0},{"r":19,"c":26,"v":-1.0},{"r":19,"c":27,"v":-1.0},{"r":19,"c":28,"v":-1.0},{"r":19,"c":29,"v":-0.9},{"r":19,"c":30,"v":-0.8},{"r":19,"c":31,"v":-1.0},{"r":19,"c":32,"v":-1.0},{"r":19,"c":33,"v":-0.9}
],
"roc":[
{"i":0,"fpr":0,"tpr":0},{"i":1,"fpr":0,"tpr":0.45},{"i":2,"fpr":0.0769,"tpr":0.45},{"i":3,"fpr":0.0769,"tpr":0.9},{"i":4,"fpr":0.1538,"tpr":0.9},{"i":5,"fpr":0.1538,"tpr":0.95},{"i":6,"fpr":0.2308,"tpr":0.95},{"i":7,"fpr":0.2308,"tpr":1},{"i":8,"fpr":1,"tpr":1}
]
},
"resolve":{"scale":{"color":"independent","fill":"independent","stroke":"independent","x":"independent","y":"independent"}},
"columns":2,"align":"none","spacing":35,
"concat":[
{
"concat":[
{
"width":433,"height":416,
"title":{"text":"A)","anchor":"start","frame":"group","dx":-12,"fontSize":20,"fontWeight":"bold","font":"Lato","offset":22},
"data":{"name":"volcano"},
"resolve":{"scale":{"fill":"independent","stroke":"independent"}},
"layer":[
{"data":{"values":[{}]},"mark":{"type":"rect","fill":{"gradient":"linear","x1":0,"y1":0,"x2":1,"y2":1,"stops":[{"offset":0,"color":"#fbfbfb"},{"offset":0.5,"color":"#dedede"},{"offset":1,"color":"#a8a8a8"}]}},
"encoding":{
"x":{"datum":-1.5,"type":"quantitative","scale":{"domain":[-1.5,1.5],"nice":false,"zero":false},
"axis":{"values":[-1.5,-1,-0.5,0,0.5,1,1.5],"format":".1f","labelExpr":"replace(datum.label, '\u2212', '-')",
"title":"Log\u2081\u2080 Fold Change (PsA-B/PsNP)","titleFont":"Lato","titleFontSize":12,"titleFontWeight":"bold","titleColor":"black","titlePadding":3,
"labelFont":"Lato","labelFontSize":13,"labelColor":"black","labelOverlap":false,"labelFlush":false,"labelPadding":1,
"tickColor":"black","tickSize":8,"domainColor":"black","grid":false,"zindex":1}},
"x2":{"datum":-0.176},
"y":{"datum":2,"type":"quantitative","scale":{"domain":[0,5.19],"nice":false,"zero":false},
"axis":{"orient":"left","offset":-216.5,"values":[1,2,3,4,5],"format":"d",
"title":null,"domain":false,"tickSize":8,"tickColor":"black","labelFont":"Lato","labelFontSize":13,"labelColor":"black","labelPadding":2,"grid":false,"labelOverlap":false,"zindex":1}},
"y2":{"datum":5.07}}},
{"data":{"values":[{}]},"mark":{"type":"rect","fill":{"gradient":"linear","x1":1,"y1":0,"x2":0,"y2":1,"stops":[{"offset":0,"color":"#f8f8f8"},{"offset":0.5,"color":"#dcdcdc"},{"offset":1,"color":"#a8a8a8"}]}},
"encoding":{"x":{"datum":0.176},"x2":{"datum":1.5},"y":{"datum":2},"y2":{"datum":5.07}}},
{"data":{"values":[{}]},"mark":{"type":"rule","color":"black","strokeWidth":1.5},"encoding":{"x":{"datum":0},"y":{"datum":0},"y2":{"datum":5.08}}},
{"data":{"name":"xminor"},"mark":{"type":"tick","orient":"vertical","size":4,"thickness":1,"color":"black","yOffset":2,"opacity":1},
"encoding":{"x":{"field":"v","type":"quantitative"},"y":{"datum":0}}},
{"data":{"name":"yminor"},"mark":{"type":"tick","orient":"horizontal","size":5,"thickness":1,"color":"black","xOffset":-2.5,"opacity":1},
"encoding":{"x":{"datum":0},"y":{"field":"v","type":"quantitative"}}},
{"transform":[{"filter":"datum.t == 'ns'"}],"mark":{"type":"circle","size":46,"fill":"#d4d4d4","stroke":"#8c8c8c","strokeWidth":0.8,"opacity":1},
"encoding":{"x":{"field":"x","type":"quantitative"},"y":{"field":"y","type":"quantitative"}}},
{"transform":[{"filter":"datum.t != 'ns'"}],"mark":{"type":"circle","size":46,"strokeWidth":0.8,"opacity":1},
"encoding":{"x":{"field":"x","type":"quantitative"},"y":{"field":"y","type":"quantitative"},
"fill":{"field":"t","type":"nominal","scale":{"domain":["low","high"],"range":["#ffff00","#f39130"]},"legend":null},
"stroke":{"field":"t","type":"nominal","scale":{"domain":["low","high"],"range":["#a89c00","#b45f14"]},"legend":null}}},
{"transform":[{"filter":"datum.t != 'ns' && datum.n != null && indexof(['low5','low8','low10','low13','high2'], datum.t + datum.n) < 0"}],
"mark":{"type":"text","align":"right","baseline":"middle","dx":-5,"fontSize":14,"font":"Lato","color":"black"},
"encoding":{"x":{"field":"x","type":"quantitative"},"y":{"field":"y","type":"quantitative"},"text":{"field":"n"}}},
{"transform":[{"filter":"datum.t != 'ns' && datum.n != null && indexof(['low5','low8','low10','low13','high2'], datum.t + datum.n) >= 0"}],
"mark":{"type":"text","align":"left","baseline":"middle","dx":5,"fontSize":14,"font":"Lato","color":"black"},
"encoding":{"x":{"field":"x","type":"quantitative"},"y":{"field":"y","type":"quantitative"},"text":{"field":"n"}}},
{"transform":[{"filter":"datum.logp != null"}],
"mark":{"type":"text","align":"left","baseline":"middle","dx":8,"dy":1,"fontSize":8,"font":"Lato","color":"#222"},
"encoding":{"x":{"field":"x","type":"quantitative"},"y":{"field":"y","type":"quantitative"},"text":{"value":"(Log p=9.36)"}}},
{"data":{"values":[{}]},"mark":{"type":"text","align":"left","baseline":"middle","fontSize":14,"fontWeight":"bold","font":"Lato","color":"black"},
"encoding":{"x":{"datum":-1.493},"y":{"datum":5.3},"text":{"value":"Low in PsP-B"}}},
{"data":{"values":[{}]},"mark":{"type":"text","align":"right","baseline":"middle","fontSize":14,"fontWeight":"bold","font":"Lato","color":"black"},
"encoding":{"x":{"datum":1.456},"y":{"datum":5.3},"text":{"value":"High in PsP-B"}}},
{"data":{"values":[{}]},"mark":{"type":"text","align":"center","baseline":"middle","angle":270,"fontSize":12,"fontWeight":"bold","font":"Lato","color":"#a0a0a0"},
"encoding":{"x":{"datum":-0.205},"y":{"datum":4.77},"text":{"value":"1.5-Fold"}}},
{"data":{"values":[{}]},"mark":{"type":"text","align":"center","baseline":"middle","angle":270,"fontSize":12,"fontWeight":"bold","font":"Lato","color":"#a0a0a0"},
"encoding":{"x":{"datum":0.212},"y":{"datum":4.77},"text":{"value":"1.5-Fold"}}},
{"data":{"values":[{}]},"mark":{"type":"text","align":"left","baseline":"middle","fontSize":13,"fontWeight":"bold","font":"Lato","color":"#9a9a9a"},
"encoding":{"x":{"datum":-1.472},"y":{"datum":2.13},"text":{"value":"p<0.01"}}},
{"data":{"values":[{}]},"mark":{"type":"text","align":"right","baseline":"middle","fontSize":13,"fontWeight":"bold","font":"Lato","color":"#9a9a9a"},
"encoding":{"x":{"datum":1.456},"y":{"datum":2.13},"text":{"value":"p<0.01"}}},
{"data":{"values":[{}]},"mark":{"type":"text","align":"center","baseline":"middle","angle":270,"fontSize":13,"font":"Lato","color":"black"},
"encoding":{"x":{"datum":0.059},"y":{"datum":4.63},"text":{"value":"Log\u2081\u2080 p-value"}}}
]
},
{
"width":433,"height":258,
"resolve":{"scale":{"y":"independent"}},
"layer":[
{"data":{"values":[{}]},"mark":{"type":"rect","fill":"#efefef"},
"encoding":{"x":{"datum":0.67,"type":"quantitative","scale":{"domain":[0,43.3],"nice":false,"zero":false},"axis":null},"x2":{"datum":23.6},
"y":{"datum":-0.65,"type":"quantitative","scale":{"domain":[-0.9,15.86],"reverse":true,"nice":false,"zero":false},"axis":null},"y2":{"datum":15.66}}},
{"data":{"values":[{}]},"mark":{"type":"rect","fill":"#efefef"},
"encoding":{"x":{"datum":25.77},"x2":{"datum":41.1},
"y":{"datum":-0.65,"type":"quantitative","scale":{"domain":[-0.9,15.86],"reverse":true,"nice":false,"zero":false},"axis":null},"y2":{"datum":3.57}}},
{"data":{"values":[{}]},"mark":{"type":"rect","fill":null,"stroke":"#a8a8a8","strokeWidth":1.5},
"encoding":{"x":{"datum":24.4},"x2":{"datum":38.5},
"y":{"datum":-0.54,"type":"quantitative","scale":{"domain":[-5.53,11.94],"reverse":true,"nice":false,"zero":false},"axis":null},"y2":{"datum":11.85}}},
{"data":{"name":"legendList"},"transform":[{"filter":"datum.list == 'low'"}],
"mark":{"type":"text","align":"left","baseline":"middle","fontSize":12,"font":"Lato","color":"black"},
"encoding":{"x":{"datum":0.85},"y":{"field":"row","type":"quantitative","scale":{"domain":[-0.9,15.86],"reverse":true,"nice":false,"zero":false},"axis":null},
"text":{"field":"label"},"fontWeight":{"condition":{"test":"datum.row == 0","value":"bold"},"value":"normal"}}},
{"data":{"name":"legendList"},"transform":[{"filter":"datum.list == 'high'"}],
"mark":{"type":"text","align":"left","baseline":"middle","fontSize":12,"font":"Lato","color":"black"},
"encoding":{"x":{"datum":26.0},"y":{"field":"row","type":"quantitative","scale":{"domain":[-0.9,15.86],"reverse":true,"nice":false,"zero":false},"axis":null},
"text":{"field":"label"},"fontWeight":{"condition":{"test":"datum.row == 0","value":"bold"},"value":"normal"}}},
{"data":{"name":"legendList"},"transform":[{"filter":"datum.list == 'low' && datum.row > 0"}],
"mark":{"type":"square","size":62,"stroke":"#6a6a6a","strokeWidth":1,"opacity":1},
"encoding":{"x":{"datum":0.05},"y":{"field":"row","type":"quantitative","scale":{"domain":[-0.9,15.86],"reverse":true,"nice":false,"zero":false},"axis":null},
"fill":{"field":"pathway","type":"nominal","scale":{"domain":["Bile Acid","Amino Acid","Nucleotide","Diacylglycerol","Eicosanoid","Endocannabinoid","Fatty Acid","Lysolipid","Redox","Hemostasis","Miscellaneous"],"range":["#4f7d2c","#2f6df0","#ffff00","#ff66ff","#ff0000","#a8d4f5","#ff9c9c","#990099","#8fd04e","#a0602a","#000000"]},"legend":null}}},
{"data":{"name":"legendList"},"transform":[{"filter":"datum.list == 'high' && datum.row > 0"}],
"mark":{"type":"square","size":62,"stroke":"#6a6a6a","strokeWidth":1,"opacity":1},
"encoding":{"x":{"datum":24.45},"y":{"field":"row","type":"quantitative","scale":{"domain":[-0.9,15.86],"reverse":true,"nice":false,"zero":false},"axis":null},
"fill":{"field":"pathway","type":"nominal"}}},
{"data":{"values":[{}]},"mark":{"type":"text","align":"left","baseline":"middle","fontSize":12,"font":"Lato","color":"black"},
"encoding":{"x":{"datum":25.37},"y":{"datum":0,"type":"quantitative","scale":{"domain":[-5.53,11.94],"reverse":true,"nice":false,"zero":false},"axis":null},"text":{"value":"Pathway Key:"}}},
{"data":{"values":[{}]},"mark":{"type":"rule","color":"black","strokeWidth":0.8},
"encoding":{"x":{"datum":25.37},"x2":{"datum":32.3},"y":{"datum":0.47,"type":"quantitative","scale":{"domain":[-5.53,11.94],"reverse":true,"nice":false,"zero":false},"axis":null}}},
{"data":{"name":"pathKey"},
"mark":{"type":"text","align":"left","baseline":"middle","fontSize":12,"font":"Lato","color":"black"},
"encoding":{"x":{"datum":26.77},"y":{"field":"row","type":"quantitative","scale":{"domain":[-5.53,11.94],"reverse":true,"nice":false,"zero":false},"axis":null},"text":{"field":"pathway"}}},
{"data":{"name":"pathKey"},
"mark":{"type":"square","size":62,"stroke":"#6a6a6a","strokeWidth":1,"opacity":1},
"encoding":{"x":{"datum":25.63},"y":{"field":"row","type":"quantitative","scale":{"domain":[-5.53,11.94],"reverse":true,"nice":false,"zero":false},"axis":null},
"fill":{"field":"pathway","type":"nominal"}}}
]
}
],
"columns":1,"align":"each","spacing":0,
"resolve":{"scale":{"color":"independent","fill":"independent","stroke":"independent","x":"independent","y":"independent"}}
},
{
"concat":[
{
"vconcat":[
{
"width":358,"height":6,
"title":{"text":"B)","anchor":"start","frame":"group","dx":-36,"fontSize":20,"fontWeight":"bold","font":"Lato","offset":19},
"data":{"name":"samples"},
"layer":[
{"mark":{"type":"rect","stroke":"#a0a0a0","strokeWidth":0.8},
"encoding":{"x":{"field":"c","type":"ordinal","scale":{"domain":[0,1,2,3,4,5,6,7,8,9,10,11,12,13,14,15,16,17,18,19,20,21,22,23,24,25,26,27,28,29,30,31,32,33,34],"paddingInner":0,"paddingOuter":0},"axis":null},
"fill":{"field":"group","type":"nominal","scale":{"domain":["PsNP","PsP-B"],"range":["#ffff00","#ff9900"]},"legend":null}}},
{"transform":[{"aggregate":[{"op":"mean","field":"c","as":"mc"}],"groupby":["group"]}],
"mark":{"type":"text","fontSize":14,"fontWeight":"bold","font":"Lato","dy":-17,"dx":-6,"baseline":"middle","align":"center","color":"black"},
"encoding":{"x":{"field":"mc","type":"ordinal"},"text":{"field":"group"}}}
]
},
{
"width":358,"height":258,
"layer":[
{"data":{"name":"heat"},
"transform":[{"lookup":"r","from":{"data":{"name":"metab"},"key":"r","fields":["name"]}}],
"mark":{"type":"rect","stroke":"#a3a3a3","strokeWidth":1},
"encoding":{
"x":{"field":"c","type":"ordinal","scale":{"domain":[0,1,2,3,4,5,6,7,8,9,10,11,12,13,14,15,16,17,18,19,20,21,22,23,24,25,26,27,28,29,30,31,32,33,34],"paddingInner":0,"paddingOuter":0},"axis":null},
"y":{"field":"name","type":"nominal","scale":{"domain":["Ceramide (d16:1/24:1)","Phosphate","O-acetylhomoserine","Galactonate","Erucoylcarnitine","Guanine","DSGEGDFXAEGGGVR","Isovalerate","5-HETE","Leukotriene B4","N-acetylmethionine","1-stearoyl-GPS (18:0)","γ-CEHC glucuronide","Malonate","Propionylglycine","Isoursodeoxycholate sulfate","Glycoursodeoxycholic acid sulfate","Deoxycholic acid 12-sulfate","Deoxycholate","1-Oleoyl glycerol (18:1)"],"paddingInner":0,"paddingOuter":0},
"axis":{"orient":"right","ticks":false,"domain":false,"labelPadding":7,"labelFont":"Lato","labelFontSize":9.8,"labelColor":"#111","title":null,"labelLimit":0}},
"color":{"field":"v","type":"quantitative",
"scale":{"domain":[-4.4,-3.52,-2.64,-1.76,-0.88,0,0.88,1.76,2.64,3.52,4.4],"range":["#053061","#2166ac","#4393c3","#92c5de","#d1e5f0","#efebe9","#fddbc7","#f4a582","#d6604d","#b2182b","#67001f"]},
"legend":{"orient":"none","legendX":-21,"legendY":2,"direction":"vertical","gradientLength":120,"gradientThickness":7,"title":null,"values":[-4,-2,0,2,4],"labelFontSize":7.5,"labelFont":"Liberation Sans","labelOffset":4,"gradientStrokeWidth":0,"labelExpr":"replace(format(datum.value,'d'),'\u2212','-')"}}}},
{"data":{"name":"metab"},
"mark":{"type":"square","size":70,"stroke":"#666666","strokeWidth":0.8,"opacity":1,"xOffset":3},
"encoding":{"x":{"datum":34,"type":"ordinal"},"y":{"field":"name","type":"nominal"},
"fill":{"field":"pathway","type":"nominal","scale":{"domain":["Bile Acid","Amino Acid","Nucleotide","Diacylglycerol","Eicosanoid","Endocannabinoid","Fatty Acid","Lysolipid","Redox","Hemostasis","Miscellaneous"],"range":["#4f7d2c","#2f6df0","#ffff00","#ff66ff","#ff0000","#a8d4f5","#ff9c9c","#990099","#8fd04e","#a0602a","#000000"]},"legend":null}}}
]
}
],
"spacing":2,
"resolve":{"scale":{"color":"independent","fill":"independent","x":"independent","y":"independent"}}
},
{
"width":351,"height":338,
"layer":[
{"data":{"values":[{}]},"mark":{"type":"rect","fill":null,"stroke":"#a8a8a8","strokeWidth":1.5,"clip":false},
"encoding":{"x":{"datum":-0.259,"type":"quantitative","scale":{"domain":[-0.255,1.055],"nice":false,"zero":false},
"axis":{"values":[0,0.25,0.5,0.75,1],"format":".2f","title":"1 - Specificity","titleX":202,"grid":false,"domain":false,"tickSize":4,"tickColor":"#444","labelFont":"Liberation Sans","labelFontSize":10,"labelColor":"#222","titleFont":"Liberation Sans","titleFontSize":10.5,"titleFontWeight":"normal","titleColor":"#222","labelPadding":3,"titlePadding":5}},
"x2":{"datum":1.103},
"y":{"datum":1.209,"type":"quantitative","scale":{"domain":[-0.052,1.209],"nice":false,"zero":false},
"axis":{"orient":"left","offset":-53.5,"values":[0,0.25,0.5,0.75,1],"format":".2f","title":"Sensitivity","titleY":189.5,"grid":false,"domain":false,"tickSize":4,"tickColor":"#444","labelFont":"Liberation Sans","labelFontSize":10,"labelColor":"#222","titleFont":"Liberation Sans","titleFontSize":10.5,"titleFontWeight":"normal","titleColor":"#222","labelPadding":3,"titlePadding":9}},
"y2":{"datum":-0.17}}},
{"data":{"name":"rocgrid"},"mark":{"type":"rule","color":"#e2e2e2","strokeWidth":1.3},
"encoding":{"x":{"field":"g","type":"quantitative"},"y":{"datum":-0.052},"y2":{"datum":1.056}}},
{"data":{"name":"rocgrid"},"mark":{"type":"rule","color":"#e2e2e2","strokeWidth":1.3},
"encoding":{"y":{"field":"g","type":"quantitative"},"x":{"datum":-0.055},"x2":{"datum":1.055}}},
{"data":{"values":[{}]},"mark":{"type":"rect","fill":null,"stroke":"#444444","strokeWidth":1},
"encoding":{"x":{"datum":-0.055},"x2":{"datum":1.055},"y":{"datum":-0.052},"y2":{"datum":1.056}}},
{"data":{"values":[{}]},"mark":{"type":"rule","color":"#9a9a9a","strokeWidth":1},
"encoding":{"x":{"datum":-0.052},"y":{"datum":-0.052},"x2":{"datum":1.055},"y2":{"datum":1.055}}},
{"data":{"name":"roc"},"mark":{"type":"line","color":"#444444","strokeWidth":1.5},
"encoding":{"x":{"field":"fpr","type":"quantitative"},"y":{"field":"tpr","type":"quantitative"},"order":{"field":"i","type":"quantitative"}}},
{"data":{"values":[{}]},"mark":{"type":"text","align":"center","baseline":"middle","fontSize":13.5,"font":"Liberation Sans","color":"#222"},
"encoding":{"x":{"datum":0.5},"y":{"datum":1.147},"text":{"value":"ROC Curve for Model"}}},
{"data":{"values":[{}]},"mark":{"type":"text","align":"center","baseline":"middle","fontSize":9.5,"font":"Liberation Sans","color":"#222"},
"encoding":{"x":{"datum":0.5},"y":{"datum":1.097},"text":{"value":"Area Under the Curve = 0.9462"}}},
{"data":{"values":[{}]},"mark":{"type":"text","align":"left","baseline":"middle","fontSize":20,"fontWeight":"bold","font":"Lato","color":"black","clip":false},
"encoding":{"x":{"datum":-0.385},"y":{"datum":1.205},"text":{"value":"C)"}}}
]
}
],
"columns":1,"align":"each","spacing":47,
"resolve":{"scale":{"color":"independent","fill":"independent","x":"independent","y":"independent"}}
}
]
}
